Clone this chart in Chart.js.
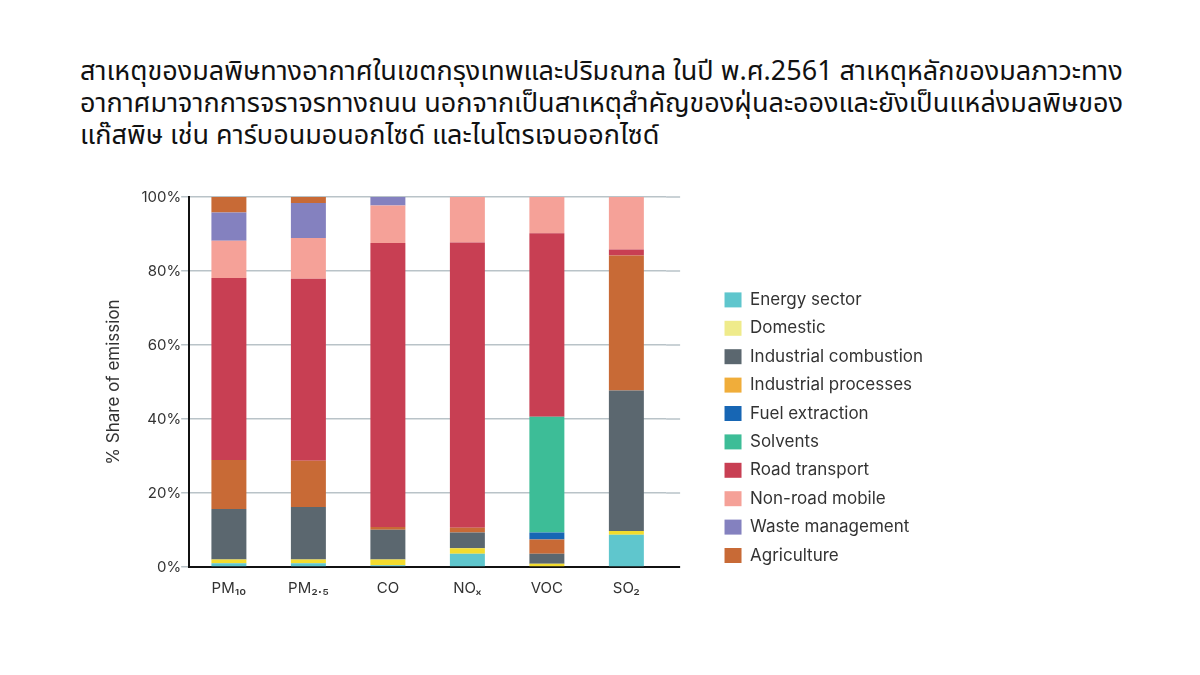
<!DOCTYPE html>
<html>
<head>
<meta charset="utf-8">
<script src="https://cdn.jsdelivr.net/npm/chart.js@4.4.1/dist/chart.umd.min.js"></script>
<style>
  body { margin: 0; width: 1200px; height: 675px; background: #fff; position: relative; overflow: hidden; }
  #title {
    position: absolute; left: 80px; top: 56px; width: 1110px;
    font-family: "Noto Sans Thai", "Noto Sans", sans-serif;
    font-size: 27px; line-height: 32px; color: #111; white-space: nowrap;
  }
  #wrap { position: absolute; left: 0; top: 170px; width: 1200px; height: 450px; }
</style>
</head>
<body>
<div id="title">สาเหตุของมลพิษทางอากาศในเขตกรุงเทพและปริมณฑล ในปี พ.ศ.2561 สาเหตุหลักของมลภาวะทาง<br>อากาศมาจากการจราจรทางถนน นอกจากเป็นสาเหตุสำคัญของฝุ่นละอองและยังเป็นแหล่งมลพิษของ<br>แก๊สพิษ เช่น คาร์บอนมอนอกไซด์ และไนโตรเจนออกไซด์</div>
<div id="wrap"><canvas id="chart"></canvas></div>
<script>
  // ข้อมูล (% share of emission) อ่านจากภาพ
  const categories = ['PM₁₀', 'PM₂.₅', 'CO', 'NOₓ', 'VOC', 'SO₂'];
  const yTicks = [0, 20, 40, 60, 80, 100];

  const energySector         = [1.0, 1.0, 0.5, 3.6, 0, 8.7];
  const domestic             = [1.0, 1.0, 1.5, 1.5, 0.9, 1.0];
  const industrialCombustion = [13.7, 14.2, 8.1, 4.2, 2.7, 38.0];
  const industrialProcesses  = [13.2, 12.5, 0.7, 1.3, 3.8, 36.5];
  const fuelExtraction       = [0, 0, 0, 0, 1.9, 0];
  const solvents             = [0, 0, 0, 0, 31.3, 0];
  const roadTransport        = [49.2, 49.2, 76.8, 77.1, 49.6, 1.6];
  const nonRoadMobile        = [10.1, 11.0, 10.1, 12.3, 9.8, 14.2];
  const wasteManagement      = [7.6, 9.5, 2.3, 0, 0, 0];
  const agriculture          = [4.2, 1.6, 0, 0, 0, 0];

  // สีแท่ง / สีในคำอธิบาย (legend)
  const series = [
    { label: 'Energy sector', data: energySector, color: '#5fc6cd' },
    { label: 'Domestic', data: domestic, color: '#f3dc2e', legendColor: '#efeb8b' },
    { label: 'Industrial combustion', data: industrialCombustion, color: '#5b676f' },
    { label: 'Industrial processes', data: industrialProcesses, color: '#c86a36', legendColor: '#f0ad3a' },
    { label: 'Fuel extraction', data: fuelExtraction, color: '#1766b4' },
    { label: 'Solvents', data: solvents, color: '#3dbd97' },
    { label: 'Road transport', data: roadTransport, color: '#c83f53' },
    { label: 'Non-road mobile', data: nonRoadMobile, color: '#f5a198' },
    { label: 'Waste management', data: wasteManagement, color: '#8481bf' },
    { label: 'Agriculture', data: agriculture, color: '#c86a36' }
  ];

  const fontFamily = 'Inter, Roboto, "DejaVu Sans", sans-serif';

  // ต่อเส้นกริดแนวนอนเลยพื้นที่กราฟไปทางขวาเล็กน้อย
  const extendGrid = {
    id: 'extendGrid',
    afterDraw(chart) {
      const { ctx, chartArea, scales } = chart;
      const ext = 14;
      ctx.save();
      yTicks.forEach(v => {
        const y = scales.y.getPixelForValue(v);
        ctx.beginPath();
        ctx.strokeStyle = v === 0 ? '#111' : '#b9c3c8';
        ctx.lineWidth = v === 0 ? 2 : 1.5;
        ctx.moveTo(chartArea.right, y);
        ctx.lineTo(chartArea.right + ext, y);
        ctx.stroke();
      });
      ctx.restore();
    }
  };

  // ให้ legend กว้างพอสำหรับข้อความยาว (ค่าเริ่มต้นจำกัดความกว้างไว้)
  const legendWidth = {
    id: 'legendWidth',
    afterInit(chart) {
      const lg = chart.legend;
      if (!lg) return;
      const update = lg.update.bind(lg);
      lg.update = (maxWidth, maxHeight, margins) => update(Math.max(maxWidth, 260), maxHeight, margins);
    }
  };

  new Chart(document.getElementById('chart'), {
    type: 'bar',
    data: {
      labels: categories,
      datasets: series.map(s => ({
        label: s.label,
        data: s.data,
        backgroundColor: s.color,
        legendColor: s.legendColor || s.color,
        borderWidth: 0,
        barPercentage: 0.44,
        categoryPercentage: 1
      }))
    },
    options: {
      responsive: true,
      maintainAspectRatio: false,
      animation: false,
      layout: { padding: { left: 104, right: 267, top: 27, bottom: 19 } },
      scales: {
        x: {
          stacked: true,
          grid: { display: false },
          border: { display: true, color: '#111', width: 2 },
          ticks: { color: '#333', font: { family: fontFamily, size: 15 }, padding: 4 }
        },
        y: {
          stacked: true,
          min: 0,
          max: 100,
          afterBuildTicks: scale => { scale.ticks = yTicks.map(v => ({ value: v })); },
          grid: { color: '#b9c3c8', lineWidth: 1.5, tickLength: 8 },
          border: { display: true, color: '#111', width: 2 },
          ticks: {
            color: '#333',
            font: { family: fontFamily, size: 15 },
            padding: 0,
            callback: v => v + '%'
          },
          title: {
            display: true,
            text: '% Share of emission',
            color: '#333',
            font: { family: fontFamily, size: 17 },
            padding: { top: 0, bottom: 17 }
          }
        },
        gap: {
          position: 'right',
          display: true,
          grid: { display: false, drawTicks: false },
          border: { display: false },
          ticks: { display: false },
          afterFit: s => { s.width = 47; }
        }
      },
      plugins: {
        legend: {
          position: 'right',
          align: 'start',
          title: { display: true, text: ' ', font: { size: 10 }, padding: { top: 0, bottom: 71 } },
          labels: {
            color: '#333',
            font: { family: fontFamily, size: 17 },
            boxWidth: 17,
            boxHeight: 15,
            padding: 11.4,
            generateLabels: chart => {
              const items = Chart.defaults.plugins.legend.labels.generateLabels(chart);
              return items.map(it => {
                const ds = chart.data.datasets[it.datasetIndex];
                it.fillStyle = ds.legendColor;
                it.strokeStyle = ds.legendColor;
                it.lineWidth = 0;
                return it;
              });
            }
          }
        },
        tooltip: { enabled: false }
      }
    },
    plugins: [extendGrid, legendWidth]
  });
</script>
</body>
</html>
